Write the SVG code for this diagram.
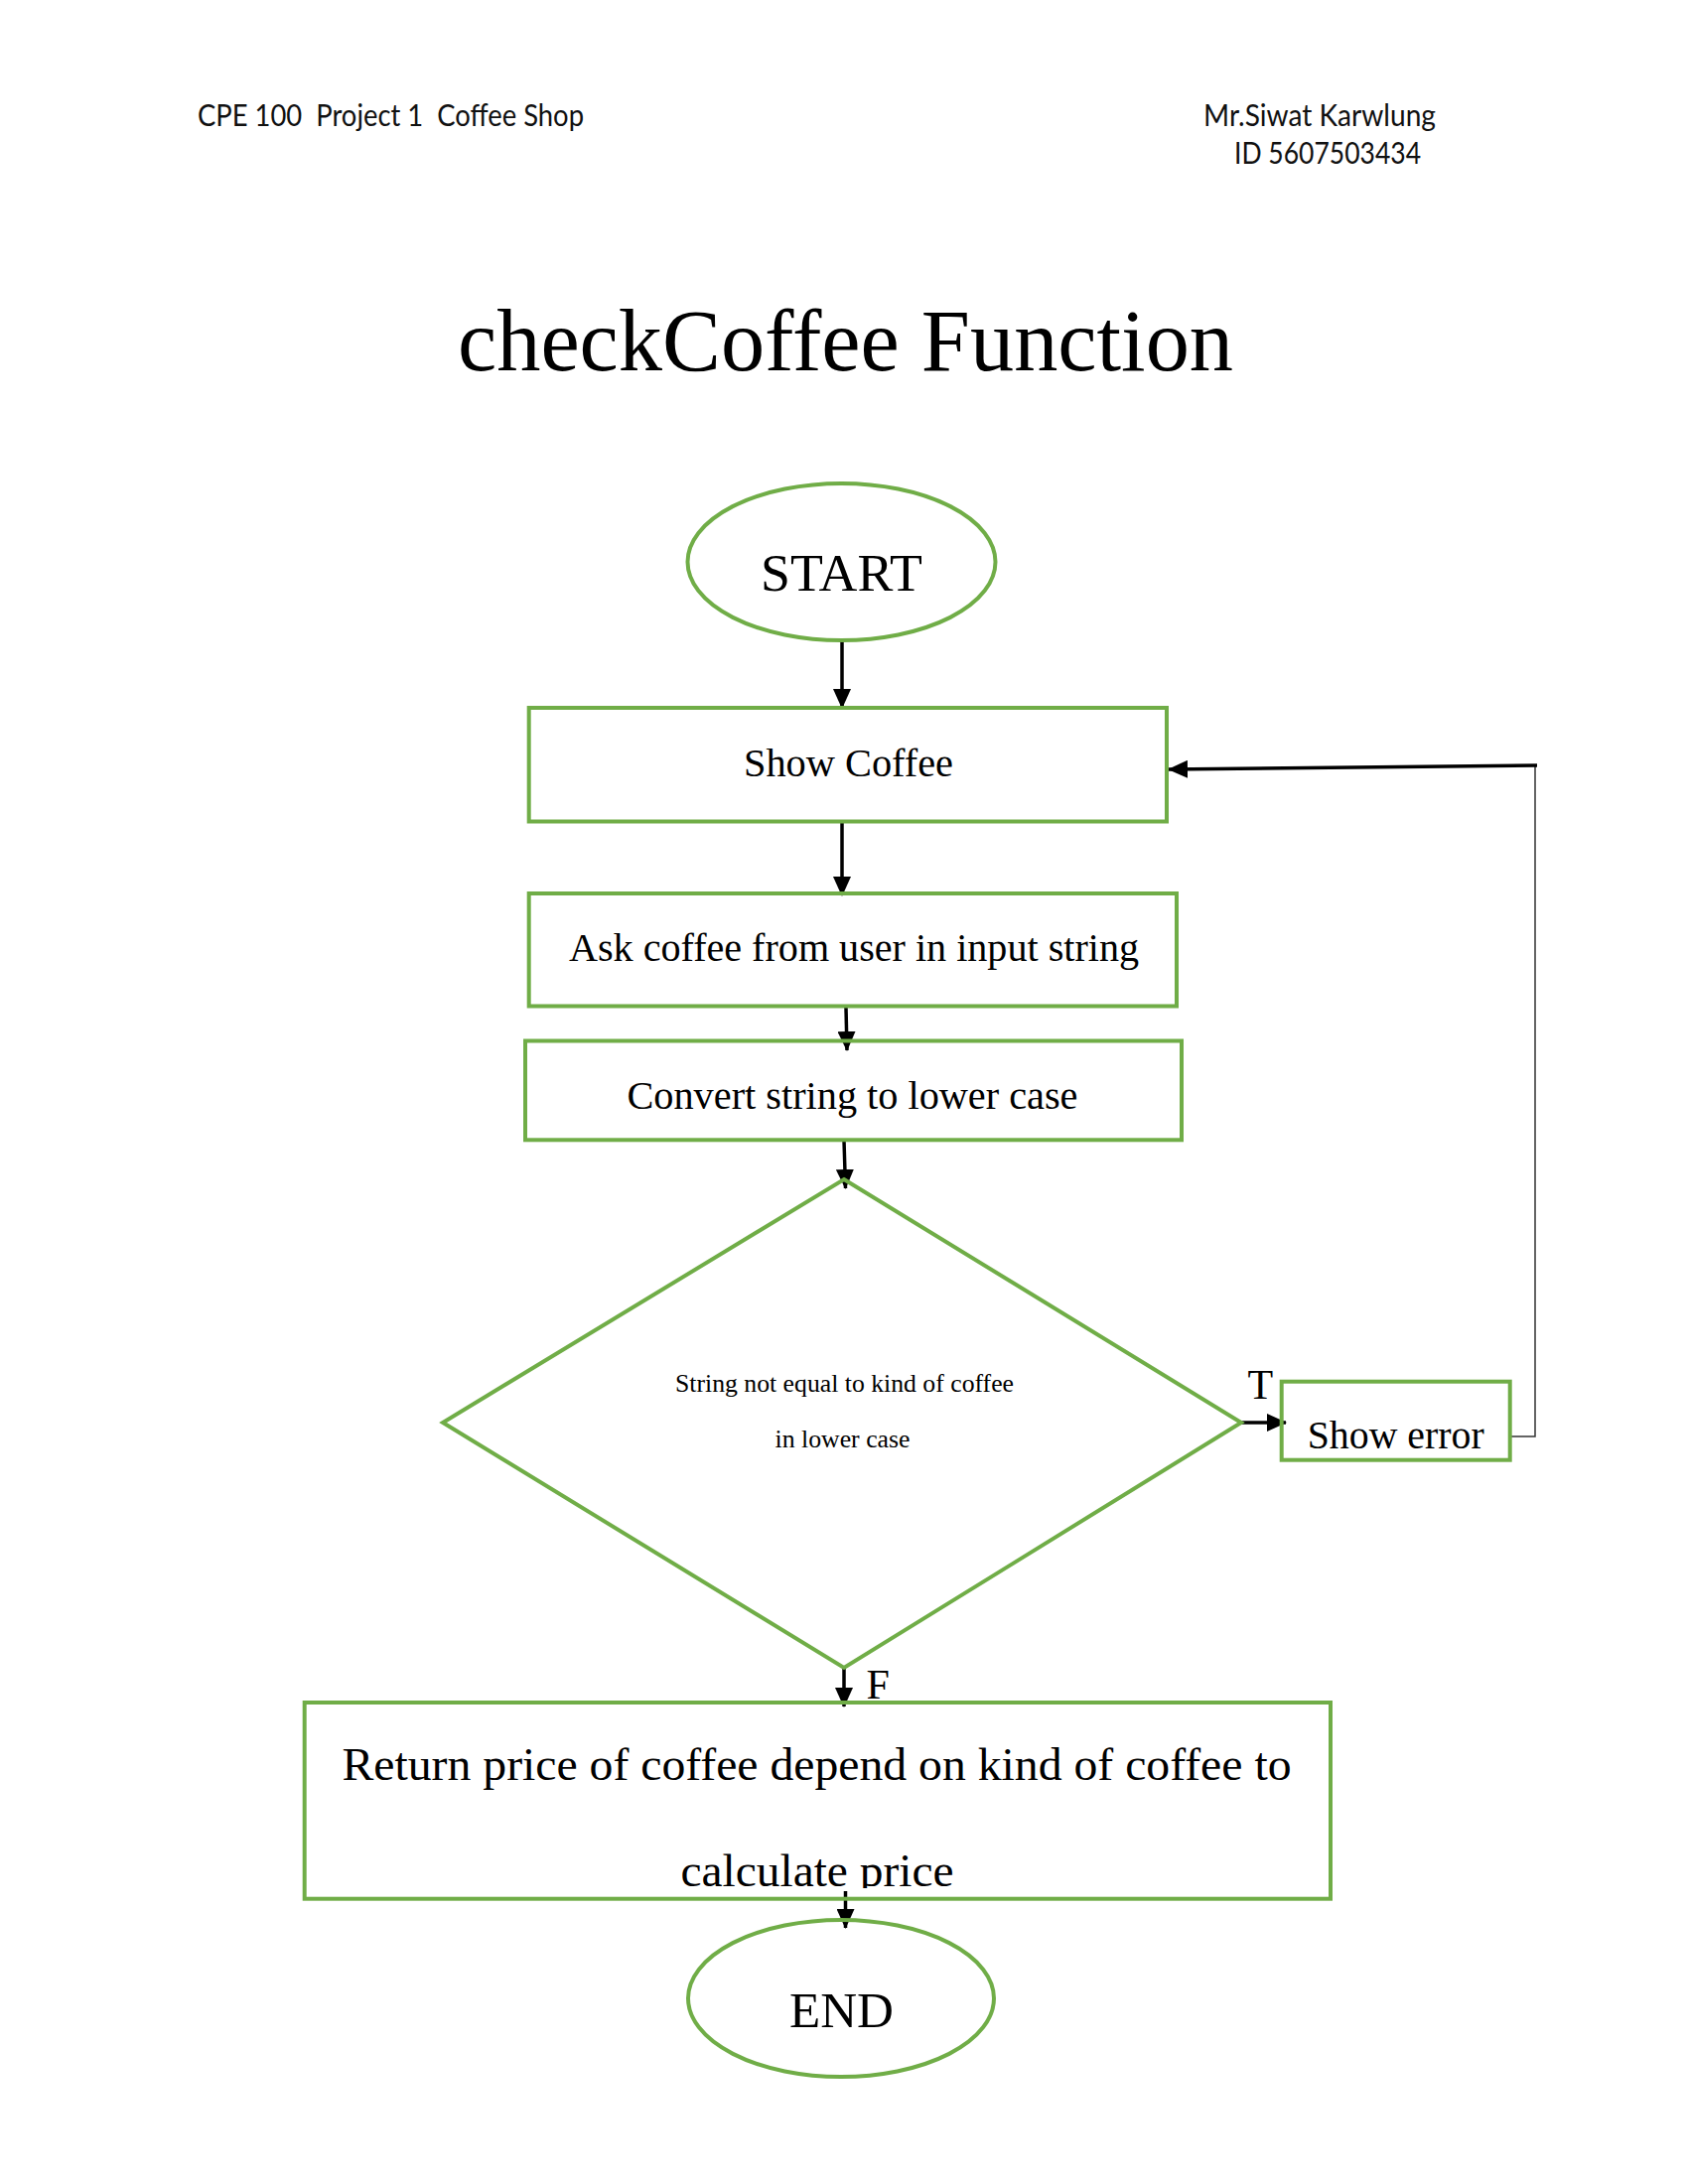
<svg xmlns="http://www.w3.org/2000/svg" width="1700" height="2200" viewBox="0 0 1700 2200">
  <style>
    .shape { fill: none; stroke: #70AD47; stroke-width: 4; }
    .lbl { font-family: "Liberation Serif", "Times New Roman", serif; fill: #000; }
    .hdr { font-family: Lato, "Open Sans", "Liberation Sans", sans-serif; font-size: 30px; fill: #111; }
    .conn { fill: none; stroke: #000; stroke-width: 3.5; }
    .thin { fill: none; stroke: #333; stroke-width: 1.5; }
  </style>
  <defs>
    <marker id="arrow" markerUnits="userSpaceOnUse" markerWidth="20" markerHeight="18" refX="19" refY="9" orient="auto">
      <path d="M0,0 L20,9 L0,18 Z" fill="#000"/>
    </marker>
    <clipPath id="clipErr"><rect x="1290" y="1390" width="232" height="70"/></clipPath>
    <clipPath id="clipRet"><rect x="305" y="1713" width="1037" height="189"/></clipPath>
  </defs>
  <rect x="0" y="0" width="1700" height="2200" fill="#fff"/>

  <g id="header">
    <text class="hdr" x="199" y="126.5" textLength="389" lengthAdjust="spacingAndGlyphs" xml:space="preserve">CPE 100  Project 1  Coffee Shop</text>
    <text class="hdr" x="1212" y="126.5" textLength="234" lengthAdjust="spacingAndGlyphs">Mr.Siwat Karwlung</text>
    <text class="hdr" x="1243" y="164.5" textLength="188" lengthAdjust="spacingAndGlyphs">ID 5607503434</text>
  </g>

  <g id="title">
    <text class="lbl" x="461" y="372.7" font-size="88" textLength="781" lengthAdjust="spacingAndGlyphs">checkCoffee Function</text>
  </g>

  <g id="connectors">
    <line class="conn" x1="848" y1="645" x2="848" y2="713" marker-end="url(#arrow)"/>
    <line class="conn" x1="848" y1="828" x2="848" y2="902" marker-end="url(#arrow)"/>
    <line class="conn" x1="852" y1="1015" x2="853" y2="1058" marker-end="url(#arrow)"/>
    <line class="conn" x1="850" y1="1149" x2="851.5" y2="1197" marker-end="url(#arrow)"/>
    <line class="conn" x1="1250" y1="1433" x2="1295" y2="1433" marker-end="url(#arrow)"/>
    <line class="conn" x1="850" y1="1681" x2="850" y2="1719" marker-end="url(#arrow)"/>
    <line class="conn" x1="851.5" y1="1905" x2="851.5" y2="1942" marker-end="url(#arrow)"/>
    <polyline class="thin" points="1521,1447 1546,1447 1546,771"/>
    <line class="conn" x1="1548" y1="771" x2="1177" y2="775" marker-end="url(#arrow)"/>
    <text class="lbl" x="1256.5" y="1409.3" font-size="42">T</text>
    <text class="lbl" x="872.5" y="1710.7" font-size="42">F</text>
  </g>

  <g id="start">
    <ellipse class="shape" cx="847.5" cy="566" rx="155" ry="79"/>
    <text class="lbl" x="766" y="595" font-size="52" textLength="163" lengthAdjust="spacingAndGlyphs">START</text>
  </g>

  <g id="show-coffee">
    <rect class="shape" x="532.7" y="713" width="642.3" height="114.5"/>
    <text class="lbl" x="749" y="781.7" font-size="40" textLength="211" lengthAdjust="spacingAndGlyphs">Show Coffee</text>
  </g>

  <g id="ask-coffee">
    <rect class="shape" x="532.7" y="900" width="652.3" height="113.5"/>
    <text class="lbl" x="573" y="968.3" font-size="40" textLength="574" lengthAdjust="spacingAndGlyphs">Ask coffee from user in input string</text>
  </g>

  <g id="convert">
    <rect class="shape" x="529" y="1048.5" width="661" height="99.8"/>
    <text class="lbl" x="631.5" y="1116.7" font-size="40" textLength="454" lengthAdjust="spacingAndGlyphs">Convert string to lower case</text>
  </g>

  <g id="decision">
    <polygon class="shape" points="850,1188 1250,1433 850,1680 446,1433"/>
    <text class="lbl" x="680" y="1401.7" font-size="25.7" textLength="341" lengthAdjust="spacingAndGlyphs">String not equal to kind of coffee</text>
    <text class="lbl" x="780.5" y="1458.3" font-size="25.7" textLength="136" lengthAdjust="spacingAndGlyphs">in lower case</text>
  </g>

  <g id="show-error">
    <rect class="shape" x="1290.7" y="1391.7" width="230" height="79"/>
    <text class="lbl" x="1316.7" y="1459" font-size="41" textLength="178" lengthAdjust="spacingAndGlyphs" clip-path="url(#clipErr)">Show error</text>
  </g>

  <g id="return-price">
    <rect class="shape" x="306.7" y="1715" width="1033.3" height="197.7"/>
    <g clip-path="url(#clipRet)">
      <text class="lbl" x="344.5" y="1793.3" font-size="46.5" textLength="956" lengthAdjust="spacingAndGlyphs">Return price of coffee depend on kind of coffee to</text>
      <text class="lbl" x="685.5" y="1900" font-size="46.5" textLength="275" lengthAdjust="spacingAndGlyphs">calculate price</text>
    </g>
  </g>

  <g id="end">
    <ellipse class="shape" cx="847" cy="2013" rx="154" ry="79"/>
    <text class="lbl" x="795" y="2041.7" font-size="51" textLength="105" lengthAdjust="spacingAndGlyphs">END</text>
  </g>
</svg>
